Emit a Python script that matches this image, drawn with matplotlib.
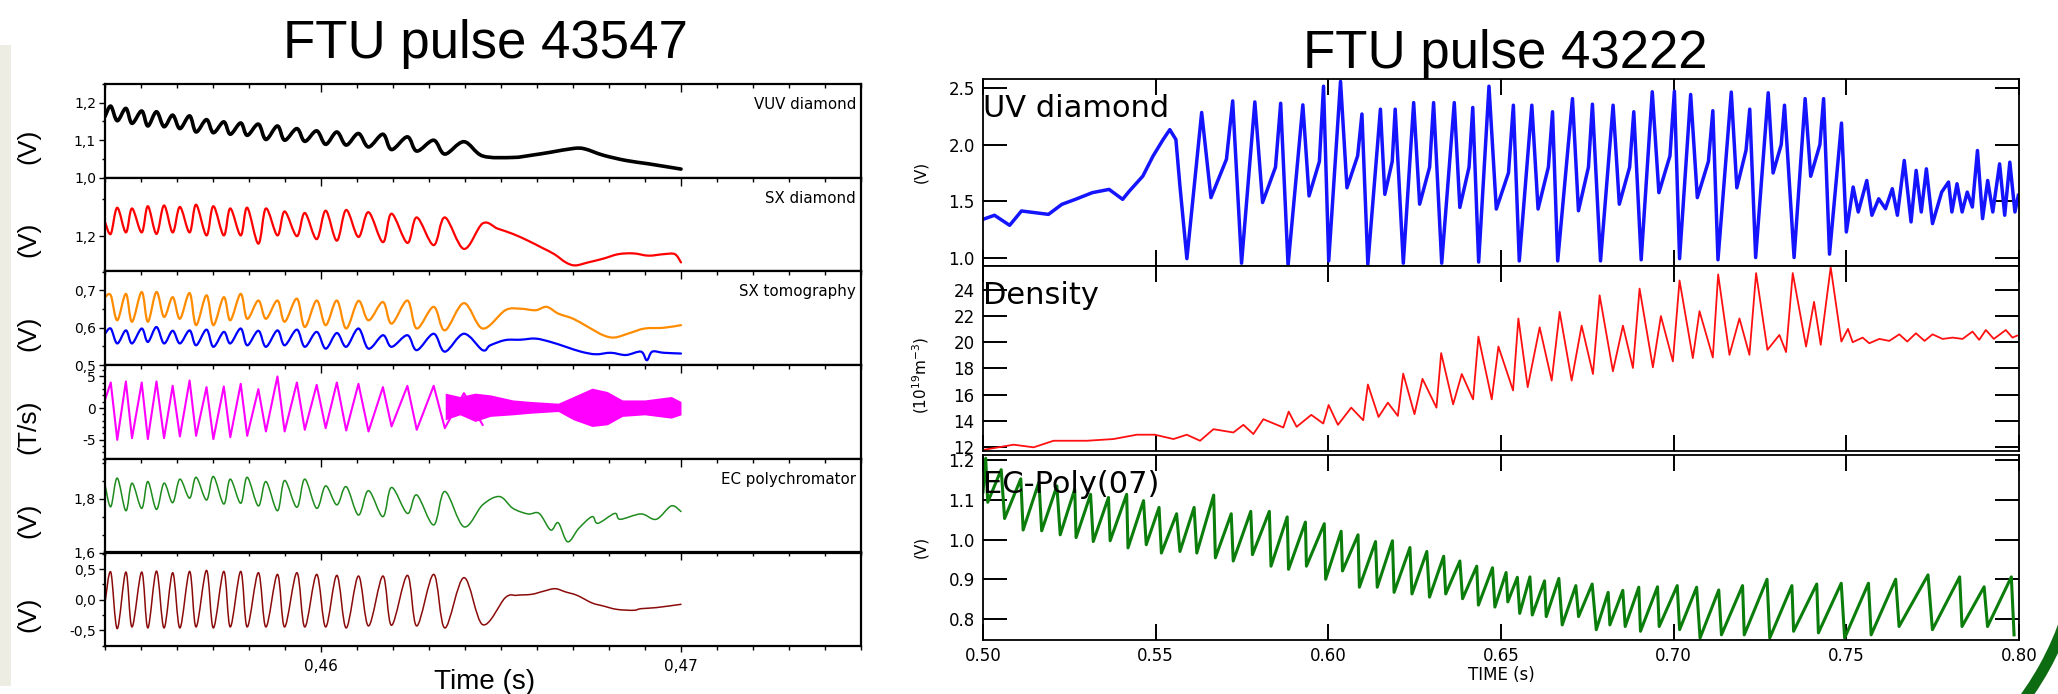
import numpy as np
import matplotlib
matplotlib.use("Agg")
import matplotlib.pyplot as plt
from matplotlib.path import Path
from matplotlib.patches import PathPatch, Rectangle, Arc
from matplotlib.transforms import IdentityTransform
from matplotlib.ticker import MultipleLocator, FixedLocator, FuncFormatter, NullFormatter

W, H = 2058, 694

# ---------------- FTU pulse 43547 (left) ----------------
# times of the mode maxima / minima (s), shared by all left traces
t_pk = [0.45416, 0.45458, 0.45502, 0.45543, 0.45588, 0.45635, 0.45682, 0.45730, 0.45777, 0.45826,
        0.45879, 0.45933, 0.45988, 0.46044, 0.46104, 0.46172, 0.46240, 0.46313, 0.46397]
t_tr = [0.45434, 0.45475, 0.45519, 0.45564, 0.45608, 0.45653, 0.45701, 0.45748, 0.45795, 0.45847,
        0.45899, 0.45955, 0.46013, 0.46070, 0.46132, 0.46196, 0.46266, 0.46344, 0.46449]

# VUV diamond (V)
vuv_start = (0.4540, 1.163)
vuv_pk = [1.191, 1.185, 1.178, 1.176, 1.167, 1.165, 1.155, 1.149, 1.146, 1.143,
          1.138, 1.131, 1.125, 1.122, 1.118, 1.116, 1.109, 1.100, 1.096]
vuv_tr = [1.152, 1.145, 1.138, 1.136, 1.131, 1.122, 1.120, 1.116, 1.113, 1.102,
          1.100, 1.097, 1.089, 1.087, 1.082, 1.075, 1.071, 1.063, 1.058]
vuv_tail_t = [0.46533, 0.46585, 0.46638, 0.46701, 0.46732, 0.46784, 0.46847, 0.46910, 0.47000]
vuv_tail_v = [1.054, 1.060, 1.068, 1.078, 1.077, 1.060, 1.046, 1.037, 1.023]

# SX diamond (V)
sxd_start = (0.4540, 1.219)
sxd_pk = [1.203, 1.205, 1.205, 1.203, 1.205, 1.205, 1.201, 1.201, 1.201, 1.190,
          1.201, 1.200, 1.196, 1.194, 1.199, 1.192, 1.191, 1.188, 1.183]
sxd_tr = [1.238, 1.237, 1.240, 1.241, 1.239, 1.242, 1.240, 1.237, 1.238, 1.237,
          1.233, 1.231, 1.234, 1.235, 1.232, 1.230, 1.225, 1.225, 1.217]
sxd_tail_t = [0.46491, 0.46533, 0.46575, 0.46612, 0.46648, 0.46680, 0.46706, 0.46742,
              0.46784, 0.46826, 0.46868, 0.46910, 0.46952, 0.46983, 0.47000]
sxd_tail_v = [1.210, 1.203, 1.194, 1.185, 1.176, 1.165, 1.161, 1.165,
              1.170, 1.176, 1.177, 1.174, 1.176, 1.176, 1.165]

# SX tomography, two chords (V)
tomo1_start = (0.4540, 0.682)
tomo1_pk = [0.687, 0.691, 0.696, 0.696, 0.682, 0.693, 0.687, 0.682, 0.691, 0.673,
            0.673, 0.678, 0.673, 0.673, 0.672, 0.669, 0.673, 0.656, 0.666]
tomo1_tr = [0.620, 0.616, 0.616, 0.629, 0.624, 0.607, 0.607, 0.620, 0.624, 0.624,
            0.616, 0.602, 0.607, 0.598, 0.620, 0.611, 0.598, 0.593, 0.598]
tomo1_tail_t = [0.46512, 0.46554, 0.46596, 0.46627, 0.46659, 0.46701, 0.46742,
                0.46784, 0.46816, 0.46858, 0.46899, 0.46952, 0.47000]
tomo1_tail_v = [0.647, 0.651, 0.647, 0.656, 0.638, 0.624, 0.602,
                0.580, 0.574, 0.586, 0.598, 0.600, 0.607]

tomo2_start = (0.4540, 0.584)
tomo2_pk = [0.598, 0.593, 0.598, 0.602, 0.592, 0.593, 0.595, 0.589, 0.598, 0.592,
            0.593, 0.595, 0.589, 0.586, 0.598, 0.580, 0.580, 0.584, 0.584]
tomo2_tr = [0.558, 0.558, 0.562, 0.558, 0.558, 0.553, 0.549, 0.558, 0.553, 0.549,
            0.553, 0.549, 0.544, 0.549, 0.544, 0.549, 0.540, 0.536, 0.540]
tomo2_tail_t = [0.46470, 0.46512, 0.46554, 0.46596, 0.46638, 0.46680, 0.46722, 0.46763,
                0.46805, 0.46847, 0.46889, 0.46905, 0.46920, 0.46952, 0.47000]
tomo2_tail_v = [0.553, 0.567, 0.568, 0.571, 0.562, 0.549, 0.536, 0.529,
                0.533, 0.527, 0.536, 0.513, 0.536, 0.533, 0.531]

# Mirnov coil (T/s)
mhd_start = (0.4540, 1.3)
mhd_pk = [4.05, 4.21, 4.05, 4.21, 3.53, 4.37, 3.32, 3.42, 3.84, 3.00,
          5.00, 4.05, 3.68, 4.05, 3.84, 3.32, 3.53, 3.53, 2.37]
mhd_tr = [-5.00, -4.74, -4.89, -4.74, -4.47, -4.37, -4.89, -4.58, -4.37, -3.68,
          -3.68, -3.42, -3.16, -3.53, -3.68, -2.89, -3.42, -3.16, -2.63]
mhd_band_t = [0.46345, 0.46386, 0.46428, 0.46470, 0.46533, 0.46585, 0.46659,
              0.46701, 0.46753, 0.46795, 0.46837, 0.46899, 0.46973, 0.47000]
mhd_band_hi = [2.37, 1.84, 2.37, 2.10, 1.30, 1.05, 0.79, 1.84, 3.16, 2.63, 1.30, 1.30, 1.84, 1.05]
mhd_band_lo = [-1.84, -1.05, -2.10, -1.30, -1.05, -0.79, -0.53, -1.84, -2.89, -2.63, -1.30, -1.05, -1.58, -1.05]

# EC polychromator (V)
ecl_start = (0.4540, 1.853)
ecl_pk = [1.771, 1.756, 1.765, 1.761, 1.786, 1.803, 1.796, 1.781, 1.784, 1.774,
          1.756, 1.769, 1.765, 1.778, 1.740, 1.734, 1.746, 1.703, 1.696]
ecl_tr = [1.878, 1.859, 1.865, 1.859, 1.874, 1.881, 1.884, 1.874, 1.881, 1.865,
          1.869, 1.874, 1.849, 1.846, 1.831, 1.843, 1.815, 1.828, 1.778]
ecl_tail_t = [0.46496, 0.46533, 0.46575, 0.46606, 0.46638, 0.46659, 0.46685, 0.46716,
              0.46753, 0.46769, 0.46816, 0.46831, 0.46889, 0.46931, 0.46973, 0.47000]
ecl_tail_v = [1.809, 1.765, 1.744, 1.746, 1.684, 1.711, 1.640, 1.690,
              1.734, 1.709, 1.746, 1.724, 1.744, 1.724, 1.774, 1.753]

# locked-mode / saddle signal (V)
sad_start = (0.4540, -0.05)
sad_pk = [0.451, 0.451, 0.451, 0.467, 0.440, 0.462, 0.478, 0.462, 0.462, 0.440,
          0.413, 0.440, 0.413, 0.397, 0.386, 0.386, 0.397, 0.413, 0.359]
sad_tr = [-0.473, -0.446, -0.462, -0.462, -0.462, -0.446, -0.462, -0.446, -0.446, -0.446,
          -0.446, -0.446, -0.446, -0.462, -0.429, -0.418, -0.429, -0.462, -0.408]
sad_tail_t = [0.46512, 0.46543, 0.46585, 0.46617, 0.46650, 0.46680, 0.46711,
              0.46753, 0.46784, 0.46821, 0.46868, 0.46889, 0.46931, 0.47000]
sad_tail_v = [0.033, 0.071, 0.087, 0.136, 0.179, 0.125, 0.071,
              -0.054, -0.103, -0.158, -0.174, -0.147, -0.130, -0.076]

# ---------------- FTU pulse 43222 (right) ----------------
uv_t = [0.50000, 0.50332, 0.50772, 0.51113, 0.51895, 0.52285, 0.52676, 0.53164, 0.53652, 0.54043,
        0.54238, 0.54629, 0.54922, 0.55215, 0.55410, 0.55586, 0.55703,
        0.55904, 0.56332, 0.56601, 0.57050, 0.57230,
        0.57487, 0.57872, 0.58096, 0.58470, 0.58620,
        0.58834, 0.59262, 0.59442, 0.59741, 0.59861,
        0.60011, 0.60353, 0.60539, 0.60849, 0.60973,
        0.61144, 0.61508, 0.61636, 0.61850, 0.61936,
        0.62171, 0.62471, 0.62644, 0.62933, 0.63048,
        0.63283, 0.63647, 0.63808, 0.64075, 0.64182,
        0.64353, 0.64652, 0.64864, 0.65217, 0.65358,
        0.65529, 0.65893, 0.66073, 0.66372, 0.66492,
        0.66642, 0.67070, 0.67243, 0.67532, 0.67647,
        0.67882, 0.68246, 0.68426, 0.68725, 0.68845,
        0.69059, 0.69380, 0.69572, 0.69893, 0.70021,
        0.70171, 0.70492, 0.70685, 0.71006, 0.71134,
        0.71283, 0.71668, 0.71829, 0.72096, 0.72203,
        0.72374, 0.72738, 0.72879, 0.73115, 0.73209,
        0.73487, 0.73807, 0.73968, 0.74235, 0.74342,
        0.74513, 0.74860,
        0.75000, 0.75197, 0.75345, 0.75592, 0.75740, 0.75937, 0.76134, 0.76331, 0.76479, 0.76677,
        0.76874, 0.77022, 0.77170, 0.77318, 0.77495, 0.77761, 0.77959, 0.78057, 0.78205, 0.78353,
        0.78501, 0.78649, 0.78797, 0.78945, 0.79093, 0.79241, 0.79438, 0.79586, 0.79734, 0.79882,
        0.79980]
uv_v = [1.338, 1.374, 1.285, 1.412, 1.382, 1.471, 1.515, 1.574, 1.603, 1.515,
        1.588, 1.721, 1.897, 2.044, 2.132, 2.044, 1.632,
        0.99, 2.284, 1.530, 1.87, 2.386,
        0.95, 2.377, 1.487, 1.80, 2.365,
        0.93, 2.351, 1.545, 1.85, 2.516,
        0.97, 2.559, 1.617, 1.90, 2.270,
        0.94, 2.313, 1.559, 1.85, 2.313,
        0.95, 2.371, 1.472, 1.80, 2.371,
        0.95, 2.371, 1.443, 1.80, 2.328,
        0.96, 2.516, 1.429, 1.75, 2.348,
        0.97, 2.348, 1.429, 1.80, 2.290,
        0.97, 2.406, 1.414, 1.80, 2.357,
        0.97, 2.348, 1.472, 1.80, 2.290,
        0.98, 2.467, 1.574, 1.90, 2.472,
        0.99, 2.443, 1.530, 1.85, 2.299,
        0.98, 2.464, 1.617, 1.95, 2.313,
        1.00, 2.458, 1.748, 2.00, 2.348,
        1.00, 2.406, 1.719, 2.00, 2.406,
        1.03, 2.19,
        1.226, 1.624, 1.403, 1.682, 1.374, 1.520, 1.432, 1.609, 1.374, 1.859,
        1.315, 1.771, 1.403, 1.785, 1.300, 1.579, 1.668, 1.403, 1.653, 1.403,
        1.579, 1.447, 1.947, 1.344, 1.682, 1.403, 1.829, 1.374, 1.844, 1.403,
        1.550]

dens_t = [0.50000, 0.50887, 0.51466, 0.52044, 0.53008, 0.53779, 0.54454, 0.54975, 0.55515, 0.55901,
          0.56286, 0.56672, 0.57250, 0.57540, 0.57829, 0.58118, 0.58697, 0.58851, 0.59082, 0.59506,
          0.59853, 0.60008, 0.60278, 0.60663, 0.61010, 0.61145, 0.61454, 0.61724, 0.62013, 0.62168,
          0.62495, 0.62727, 0.63131, 0.63267, 0.63614, 0.63864, 0.64192, 0.64346, 0.64732, 0.64925,
          0.65349, 0.65503, 0.65773, 0.66120, 0.66468, 0.66699, 0.67046, 0.67335, 0.67663, 0.67856,
          0.68241, 0.68531, 0.68820, 0.69013, 0.69398, 0.69630, 0.69977, 0.70170, 0.70555, 0.70748,
          0.71134, 0.71288, 0.71616, 0.71905, 0.72194, 0.72387, 0.72715, 0.73062, 0.73255, 0.73448,
          0.73834, 0.74065, 0.74258, 0.74547, 0.74856, 0.75048, 0.75183, 0.75472, 0.75665, 0.75955,
          0.76244, 0.76533, 0.76764, 0.77015, 0.77266, 0.77497, 0.77786, 0.78076, 0.78365, 0.78654,
          0.78847, 0.79040, 0.79271, 0.79618, 0.79811, 0.79946]
dens_v = [11.80, 12.20, 12.00, 12.50, 12.50, 12.63, 12.96, 12.96, 12.63, 12.96,
          12.50, 13.38, 13.13, 13.71, 13.01, 14.14, 13.51, 14.72, 13.56, 14.47,
          13.81, 15.22, 13.71, 15.02, 14.06, 16.78, 14.31, 15.40, 14.39, 17.61,
          14.52, 17.21, 15.02, 19.17, 15.27, 17.58, 15.65, 20.43, 15.65, 19.67,
          16.33, 21.81, 16.58, 21.13, 17.08, 22.31, 17.08, 21.26, 17.58, 23.57,
          17.79, 21.26, 18.04, 24.08, 18.09, 21.99, 18.54, 24.70, 18.79, 22.36,
          18.84, 25.16, 19.04, 21.81, 19.04, 25.26, 19.42, 20.55, 19.25, 25.26,
          19.67, 23.07, 19.80, 25.71, 20.05, 21.01, 20.00, 20.35, 19.92, 20.25,
          20.10, 20.60, 20.05, 20.68, 20.10, 20.60, 20.25, 20.35, 20.25, 20.81,
          20.18, 20.93, 20.25, 20.93, 20.35, 20.50]

# EC-Poly(07): sawtooth crashes, top of each tooth then bottom just after the crash
ec_start = (0.5000, 1.120)
ec_pk_t = [0.50078, 0.50527, 0.51094, 0.51621, 0.52139, 0.52656, 0.53115, 0.53633, 0.54160, 0.54649,
           0.55098, 0.55606, 0.56113, 0.56680, 0.57188, 0.57754, 0.58291, 0.58809, 0.59336, 0.59883,
           0.60371, 0.60860, 0.61367, 0.61856, 0.62363, 0.62852, 0.63340, 0.63809, 0.64297,
           0.64754, 0.65148, 0.65473, 0.65837, 0.66261, 0.66675, 0.67167, 0.67640, 0.68103, 0.68527,
           0.68990, 0.69532, 0.70103, 0.70665, 0.71305, 0.71995, 0.72704, 0.73424, 0.74143, 0.74852,
           0.75640, 0.76429, 0.77365, 0.78281, 0.78990, 0.79778]
ec_pk_v = [1.205, 1.176, 1.153, 1.145, 1.135, 1.127, 1.114, 1.106, 1.114, 1.098,
           1.081, 1.065, 1.081, 1.112, 1.065, 1.071, 1.071, 1.057, 1.044, 1.040,
           1.021, 1.012, 0.995, 0.997, 0.980, 0.970, 0.958, 0.946, 0.933,
           0.929, 0.917, 0.905, 0.906, 0.896, 0.902, 0.884, 0.888, 0.867, 0.872,
           0.880, 0.881, 0.884, 0.880, 0.873, 0.884, 0.900, 0.884, 0.888, 0.890,
           0.890, 0.900, 0.911, 0.906, 0.881, 0.906]
ec_tr_t = [0.50137, 0.50625, 0.51162, 0.51699, 0.52236, 0.52695, 0.53193, 0.53682, 0.54199, 0.54727,
           0.55166, 0.55703, 0.56191, 0.56729, 0.57246, 0.57803, 0.58340, 0.58848, 0.59366, 0.59922,
           0.60410, 0.60899, 0.61416, 0.61904, 0.62422, 0.62930, 0.63399, 0.63887, 0.64346,
           0.64823, 0.65197, 0.65542, 0.65906, 0.66310, 0.66773, 0.67246, 0.67759, 0.68153, 0.68596,
           0.69039, 0.69581, 0.70172, 0.70764, 0.71384, 0.72044, 0.72783, 0.73473, 0.74192, 0.74951,
           0.75719, 0.76527, 0.77493, 0.78350, 0.79089, 0.79857]
ec_tr_v = [1.094, 1.053, 1.024, 1.022, 1.012, 1.005, 0.995, 0.997, 0.979, 0.987,
           0.966, 0.970, 0.966, 0.954, 0.946, 0.962, 0.933, 0.925, 0.933, 0.900,
           0.921, 0.880, 0.880, 0.867, 0.863, 0.855, 0.863, 0.851, 0.835,
           0.830, 0.843, 0.814, 0.810, 0.806, 0.785, 0.806, 0.773, 0.785, 0.781,
           0.769, 0.781, 0.773, 0.752, 0.760, 0.760, 0.752, 0.769, 0.765, 0.752,
           0.760, 0.781, 0.773, 0.781, 0.781, 0.760]


def box(left, top, right, bottom):
    # pixel box (top-left origin) -> figure fraction
    return [left / W, 1 - bottom / H, (right - left) / W, (bottom - top) / H]


def merge(start, pk, tr, tail_t=(), tail_v=()):
    t = np.r_[start[0], t_pk, t_tr, tail_t]
    v = np.r_[start[1], pk, tr, tail_v]
    order = np.argsort(t)
    return t[order], v[order]


def smooth_line(ax, t, v, color, lw):
    # Catmull-Rom curve through the read points, drawn in data coordinates
    t = np.asarray(t, float)
    v = np.asarray(v, float)
    tp = np.r_[t[0], t, t[-1]]
    vp = np.r_[v[0], v, v[-1]]
    verts = [(t[0], v[0])]
    codes = [Path.MOVETO]
    for i in range(len(t) - 1):
        j = i + 1
        c1 = (tp[j] + (tp[j + 1] - tp[j - 1]) / 6, vp[j] + (vp[j + 1] - vp[j - 1]) / 6)
        c2 = (tp[j + 1] - (tp[j + 2] - tp[j]) / 6, vp[j + 1] - (vp[j + 2] - vp[j]) / 6)
        verts += [c1, c2, (t[i + 1], v[i + 1])]
        codes += [Path.CURVE4] * 3
    ax.add_patch(PathPatch(Path(verts, codes), fill=False, edgecolor=color, lw=lw,
                           joinstyle="round", capstyle="round"))


def comma_fmt(dec):
    def f(v, _):
        if abs(v) < 1e-9:
            v = 0.0
        return f"{v:.{dec}f}".replace(".", ",")
    return FuncFormatter(f)


fig = plt.figure(figsize=(W / 100, H / 100), dpi=100)
fig.patch.set_facecolor("white")

# slide decoration: beige strip at the left edge, green swoosh bottom right
fig.patches.append(Rectangle((0, 1 - 686 / H), 11 / W, (686 - 45) / H,
                             transform=fig.transFigure, facecolor="#eeede3", edgecolor="none"))
# swoosh drawn in display pixels (origin bottom-left) so the circle stays round
fig.patches.append(Arc((1782, H - 522), 600, 600, theta1=-40, theta2=-18,
                       transform=IdentityTransform(), color="#0d6b12", lw=8))

# ---------- left stack ----------
L_LEFT, L_RIGHT, L_TOP, L_H = 105, 861, 84, 93.7
left_ylim = [(1.0, 1.25), (1.153, 1.278), (0.5, 0.751), (-8.0, 6.8), (1.6, 1.95), (-0.76, 0.77)]
left_major = [0.1, 0.1, 0.1, 5, 0.2, 0.5]
left_minor = [0.05, 0.05, 0.05, 1, 0.2 / 3, 0.25]
left_dec = [1, 1, 1, 0, 1, 1]
left_names = ["VUV diamond", "SX diamond", "SX tomography", "", "EC polychromator", ""]
left_units = ["(V)", "(V)", "(V)", "(T/s)", "(V)", "(V)"]

laxes = []
for i in range(6):
    top = L_TOP + i * L_H
    ax = fig.add_axes(box(L_LEFT, top, L_RIGHT, top + L_H))
    ax.set_xlim(0.454, 0.475)
    ax.set_ylim(*left_ylim[i])
    ax.xaxis.set_major_locator(MultipleLocator(0.01))
    ax.xaxis.set_minor_locator(MultipleLocator(0.001))
    ax.yaxis.set_major_locator(MultipleLocator(left_major[i]))
    ax.yaxis.set_minor_locator(MultipleLocator(left_minor[i]))
    ax.yaxis.set_major_formatter(comma_fmt(left_dec[i]))
    ax.xaxis.set_major_formatter(comma_fmt(2))
    for s in ax.spines.values():
        s.set_linewidth(1.6)
    ax.tick_params(axis="y", which="both", direction="out", left=True, right=False,
                   labelsize=10, pad=2, width=1.0)
    ax.tick_params(axis="y", which="major", length=4.5)
    ax.tick_params(axis="y", which="minor", length=2.5)
    if i < 5:
        ax.tick_params(axis="x", which="both", direction="in", top=True, bottom=False,
                       labelbottom=False, width=1.0)
        ax.tick_params(axis="x", which="major", length=5.5)
        ax.tick_params(axis="x", which="minor", length=3)
    else:
        ax.tick_params(axis="x", which="both", direction="out", top=False, bottom=True,
                       labelbottom=True, labelsize=11, pad=5, width=1.0)
        ax.tick_params(axis="x", which="major", length=4.5)
        ax.tick_params(axis="x", which="minor", length=3)
        sec = ax.secondary_xaxis("top")
        sec.xaxis.set_major_locator(MultipleLocator(0.01))
        sec.xaxis.set_minor_locator(MultipleLocator(0.001))
        sec.xaxis.set_major_formatter(NullFormatter())
        sec.tick_params(axis="x", which="both", direction="in", width=1.0, labeltop=False)
        sec.tick_params(axis="x", which="major", length=5.5)
        sec.tick_params(axis="x", which="minor", length=3)
        sec.spines["top"].set_linewidth(1.6)
    if left_names[i]:
        ax.text(1 - 5 / (L_RIGHT - L_LEFT), 1 - 25 / L_H, left_names[i], transform=ax.transAxes,
                ha="right", va="baseline", fontsize=10.8, family="DejaVu Sans")
    fig.text(28 / W, 1 - (top + L_H / 2 + 15) / H, left_units[i], rotation=90,
             ha="center", va="center", fontsize=19, family="Liberation Sans")
    laxes.append(ax)

t, v = merge(vuv_start, vuv_pk, vuv_tr, vuv_tail_t, vuv_tail_v)
smooth_line(laxes[0], t, v, "black", 2.6)
t, v = merge(sxd_start, sxd_pk, sxd_tr, sxd_tail_t, sxd_tail_v)
smooth_line(laxes[1], t, v, "#ff0000", 1.6)
t, v = merge(tomo1_start, tomo1_pk, tomo1_tr, tomo1_tail_t, tomo1_tail_v)
smooth_line(laxes[2], t, v, "#ff8c00", 1.6)
t, v = merge(tomo2_start, tomo2_pk, tomo2_tr, tomo2_tail_t, tomo2_tail_v)
smooth_line(laxes[2], t, v, "#0000ff", 1.6)
t, v = merge(mhd_start, mhd_pk, mhd_tr)
laxes[3].plot(t, v, color="#ff00ff", lw=1.5)
laxes[3].fill_between(mhd_band_t, mhd_band_lo, mhd_band_hi, color="#ff00ff", lw=0)
t, v = merge(ecl_start, ecl_pk, ecl_tr, ecl_tail_t, ecl_tail_v)
smooth_line(laxes[4], t, v, "#1e8b1e", 1.1)
t, v = merge(sad_start, sad_pk, sad_tr, sad_tail_t, sad_tail_v)
smooth_line(laxes[5], t, v, "#8b0a0a", 1.1)

fig.text(485 / W, 1 - 58 / H, "FTU pulse 43547", ha="center", va="baseline",
         fontsize=38, family="Liberation Sans")
fig.text(485 / W, 1 - 689 / H, "Time (s)", ha="center", va="baseline",
         fontsize=20, family="Liberation Sans")

# ---------- right stack ----------
R_LEFT, R_RIGHT = 983, 2019
r_rows = [(79, 266), (266, 451), (455, 640)]
r_ylim = [(0.925, 2.58), (11.72, 25.8), (0.747, 1.213)]
r_ticks = [[1.0, 1.5, 2.0, 2.5], [12, 14, 16, 18, 20, 22, 24], [0.8, 0.9, 1.0, 1.1, 1.2]]
r_fmt = ["{:.1f}", "{:.0f}", "{:.1f}"]
r_names = ["UV diamond", "Density", "EC-Poly(07)"]
r_units = ["(V)", r"(10$^{19}$m$^{-3}$)", "(V)"]
r_unit_y = [172, 375, 547]

raxes = []
for i, (top, bot) in enumerate(r_rows):
    ax = fig.add_axes(box(R_LEFT, top, R_RIGHT, bot))
    ax.set_xlim(0.5, 0.8)
    ax.set_ylim(*r_ylim[i])
    ax.xaxis.set_major_locator(MultipleLocator(0.05))
    ax.xaxis.set_major_formatter(FuncFormatter(lambda x, _: f"{x:.2f}"))
    ax.yaxis.set_major_locator(FixedLocator(r_ticks[i]))
    ax.yaxis.set_major_formatter(FuncFormatter(lambda y, _, f=r_fmt[i]: f.format(y)))
    for s in ax.spines.values():
        s.set_linewidth(1.3)
    ax.tick_params(axis="both", direction="in", top=True, bottom=True, left=True, right=True,
                   width=1.4, labelsize=12)
    ax.tick_params(axis="x", length=11.5, pad=5, labelbottom=(i == 2))
    ax.tick_params(axis="y", length=17, pad=6)
    ax.text(0.0, 1 - 38 / (bot - top), r_names[i], transform=ax.transAxes, ha="left",
            va="baseline", fontsize=22, family="DejaVu Sans")
    fig.text(921 / W, 1 - r_unit_y[i] / H, r_units[i], rotation=90, ha="center",
             va="center", fontsize=11, family="DejaVu Sans")
    raxes.append(ax)

raxes[0].plot(uv_t, uv_v, color="#1414ff", lw=2.5)
raxes[1].plot(dens_t, dens_v, color="#ff1010", lw=1.3)
ec_t = np.r_[ec_start[0], ec_pk_t, ec_tr_t]
ec_v = np.r_[ec_start[1], ec_pk_v, ec_tr_v]
order = np.argsort(ec_t)
raxes[2].plot(ec_t[order], ec_v[order], color="#0b7d0b", lw=2.2)

fig.text(1505 / W, 1 - 68 / H, "FTU pulse 43222", ha="center", va="baseline",
         fontsize=38, family="Liberation Sans")
fig.text(1501 / W, 1 - 680 / H, "TIME (s)", ha="center", va="baseline",
         fontsize=12, family="DejaVu Sans")

fig.savefig("out.png", dpi=100)
